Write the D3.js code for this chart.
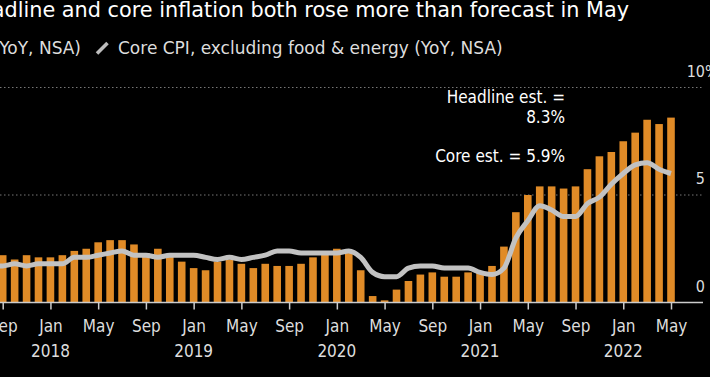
<!DOCTYPE html>
<html lang="en">
<head>
<meta charset="utf-8">
<title>CPI</title>
<script src="https://cdn.jsdelivr.net/npm/d3@7"></script>
<style>
  html, body { margin: 0; padding: 0; background: #000; }
  svg { display: block; }
  text { font-family: "DejaVu Sans Condensed", "DejaVu Sans", sans-serif; }
  .wide { font-family: "DejaVu Sans", sans-serif; }
</style>
</head>
<body>
<script type="text/javascript">

var width = 710;
var height = 377;

// months from Aug 2017 to May 2022
var months = [
  "2017-08","2017-09","2017-10","2017-11","2017-12",
  "2018-01","2018-02","2018-03","2018-04","2018-05","2018-06","2018-07","2018-08","2018-09","2018-10","2018-11","2018-12",
  "2019-01","2019-02","2019-03","2019-04","2019-05","2019-06","2019-07","2019-08","2019-09","2019-10","2019-11","2019-12",
  "2020-01","2020-02","2020-03","2020-04","2020-05","2020-06","2020-07","2020-08","2020-09","2020-10","2020-11","2020-12",
  "2021-01","2021-02","2021-03","2021-04","2021-05","2021-06","2021-07","2021-08","2021-09","2021-10","2021-11","2021-12",
  "2022-01","2022-02","2022-03","2022-04","2022-05"
];

// headline CPI, YoY %
var headline = [
  1.9, 2.2, 2.0, 2.2, 2.1,
  2.1, 2.2, 2.4, 2.5, 2.8, 2.9, 2.9, 2.7, 2.3, 2.5, 2.2, 1.9,
  1.6, 1.5, 1.9, 2.0, 1.8, 1.6, 1.8, 1.7, 1.7, 1.8, 2.1, 2.3,
  2.5, 2.3, 1.5, 0.3, 0.1, 0.6, 1.0, 1.3, 1.4, 1.2, 1.2, 1.4,
  1.4, 1.7, 2.6, 4.2, 5.0, 5.4, 5.4, 5.3, 5.4, 6.2, 6.8, 7.0,
  7.5, 7.9, 8.5, 8.3, 8.6
];

// core CPI excluding food & energy, YoY %
var core = [
  1.7, 1.7, 1.8, 1.7, 1.8,
  1.8, 1.8, 2.1, 2.1, 2.2, 2.3, 2.4, 2.2, 2.2, 2.1, 2.2, 2.2,
  2.2, 2.1, 2.0, 2.1, 2.0, 2.1, 2.2, 2.4, 2.4, 2.3, 2.3, 2.3,
  2.3, 2.4, 2.1, 1.4, 1.2, 1.2, 1.6, 1.7, 1.7, 1.6, 1.6, 1.6,
  1.4, 1.3, 1.6, 3.0, 3.8, 4.5, 4.3, 4.0, 4.0, 4.6, 4.9, 5.5,
  6.0, 6.4, 6.5, 6.2, 6.0
];

var yTicks = [0, 5, 10];
var monthNames = ["Jan","Feb","Mar","Apr","May","Jun","Jul","Aug","Sep","Oct","Nov","Dec"];

var svg = d3.select("body").append("svg")
            .attr("width", width)
            .attr("height", height);

var x = d3.scalePoint()
          .domain(months)
          .range([2.7 - 11.934, 671]);

var y = d3.scaleLinear()
          .domain([0, 10])
          .range([302.5, 87.5]);

var barWidth = 7.6;

// title (cropped on the left like the original)
svg.append("text")
   .attr("class", "wide")
   .attr("x", 629)
   .attr("y", 17)
   .attr("text-anchor", "end")
   .attr("fill", "#fff")
   .style("font-size", "20.8px")
   .text("Headline and core inflation both rose more than forecast in May");

// legend
svg.append("text")
   .attr("class", "wide")
   .attr("x", 81)
   .attr("y", 54)
   .attr("text-anchor", "end")
   .attr("fill", "#ddd")
   .style("font-size", "17px")
   .text("Headline CPI (YoY, NSA)");

svg.append("line")
   .attr("x1", 97).attr("y1", 53.5)
   .attr("x2", 107.5).attr("y2", 43)
   .attr("stroke", "#bdbdbd")
   .attr("stroke-width", 3.5);

svg.append("text")
   .attr("class", "wide")
   .attr("x", 118)
   .attr("y", 54)
   .attr("fill", "#ddd")
   .style("font-size", "17px")
   .text("Core CPI, excluding food & energy (YoY, NSA)");

// gridlines
svg.selectAll(".grid")
   .data(yTicks.filter((d) => d > 0))
   .enter()
   .append("line")
   .attr("class", "grid")
   .attr("x1", 0)
   .attr("x2", 703)
   .attr("y1", (d) => y(d))
   .attr("y2", (d) => y(d))
   .attr("stroke", "#777")
   .attr("stroke-width", 1)
   .attr("stroke-dasharray", "1.5,2.5");

// y labels
svg.selectAll(".ylab")
   .data(yTicks)
   .enter()
   .append("text")
   .attr("class", "ylab")
   .attr("x", 705)
   .attr("y", (d) => y(d) - 11)
   .attr("text-anchor", "end")
   .attr("fill", "#ddd")
   .style("font-size", "16px")
   .text((d) => d);

svg.append("text")
   .attr("x", 705)
   .attr("y", y(10) - 11)
   .attr("fill", "#ddd")
   .style("font-size", "16px")
   .text("%");

// bars
svg.selectAll(".bar")
   .data(months)
   .enter()
   .append("rect")
   .attr("class", "bar")
   .attr("x", (d) => x(d) - barWidth / 2)
   .attr("width", barWidth)
   .attr("y", (d, i) => y(headline[i]))
   .attr("height", (d, i) => y(0) - y(headline[i]))
   .attr("fill", "#e08b27");

// core line
var line = d3.line()
             .x((d) => x(d))
             .y((d, i) => y(core[i]))
             .curve(d3.curveMonotoneX);

svg.append("path")
   .datum(months)
   .attr("d", line)
   .attr("fill", "none")
   .attr("stroke", "#c2c2c2")
   .attr("stroke-width", 5)
   .attr("stroke-linejoin", "round");

// baseline
svg.append("line")
   .attr("x1", 0)
   .attr("x2", 703)
   .attr("y1", y(0))
   .attr("y2", y(0))
   .attr("stroke", "#ccc")
   .attr("stroke-width", 1.5);

// x axis
var tickMonths = months.filter((m) => [1, 5, 9].indexOf(+m.slice(5)) >= 0);

var xAxis = d3.axisBottom(x)
              .tickValues(tickMonths)
              .tickSize(7)
              .tickPadding(10)
              .tickFormat((m) => monthNames[+m.slice(5) - 1]);

var gx = svg.append("g")
            .attr("transform", "translate(0," + y(0) + ")")
            .call(xAxis);

gx.select(".domain").remove();
gx.selectAll(".tick line").attr("stroke", "#ccc").attr("stroke-width", 1.5);
gx.selectAll(".tick text")
  .attr("fill", "#ddd")
  .style("font-size", "17px")
  .style("font-family", "\"DejaVu Sans Condensed\", \"DejaVu Sans\", sans-serif");

// year labels under January
svg.selectAll(".year")
   .data(tickMonths.filter((m) => m.slice(5) === "01"))
   .enter()
   .append("text")
   .attr("class", "year")
   .attr("x", (d) => x(d))
   .attr("y", 357)
   .attr("text-anchor", "middle")
   .attr("fill", "#ddd")
   .style("font-size", "17px")
   .text((d) => d.slice(0, 4));

// estimate notes
var notes = [
  { text: "Headline est. =", y: 103 },
  { text: "8.3%", y: 123 },
  { text: "Core est. = 5.9%", y: 162 }
];

svg.selectAll(".note")
   .data(notes)
   .enter()
   .append("text")
   .attr("class", "note")
   .attr("x", 565)
   .attr("y", (d) => d.y)
   .attr("text-anchor", "end")
   .attr("fill", "#fff")
   .style("font-size", "17px")
   .text((d) => d.text);

</script>
</body>
</html>
